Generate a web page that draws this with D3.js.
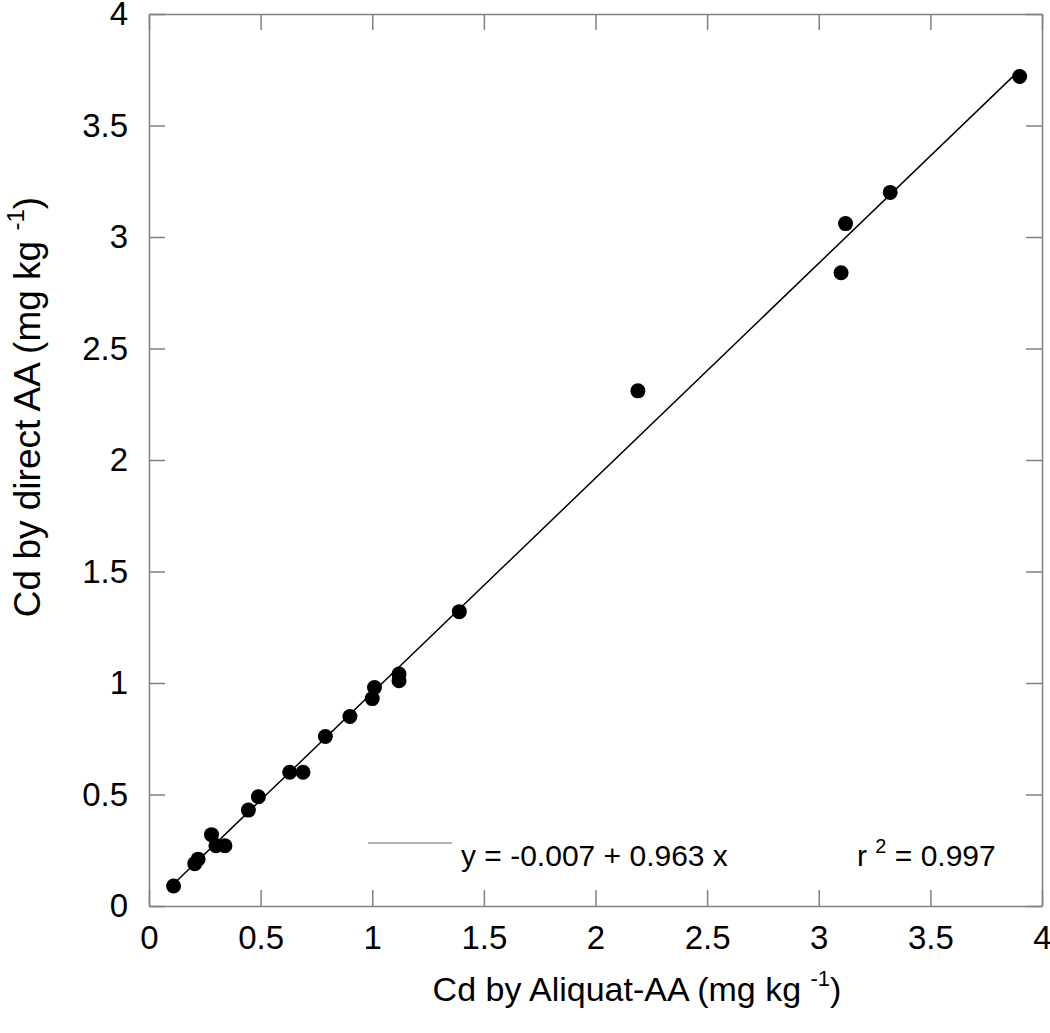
<!DOCTYPE html>
<html lang="en">
<head>
	<meta charset="UTF-8"/>
	<title>Cd by direct AA vs Aliquat-AA</title>
	<script src="https://d3js.org/d3.v7.min.js"></script>
	<style>
		body { margin: 0; background: #fff; }
		text { font-family: "Liberation Sans", Arial, Helvetica, sans-serif; fill: #000; }
	</style>
</head>
<body>
	<script>
		var w = 1050;
		var h = 1033;

		// data (mg/kg)
		var aliquatAA = [0.11, 0.205, 0.22, 0.28, 0.30, 0.34, 0.445, 0.49, 0.63, 0.69, 0.79, 0.90,
		                 1.00, 1.01, 1.12, 1.12, 1.39, 2.19, 3.10, 3.12, 3.32, 3.90];
		var directAA  = [0.09, 0.19, 0.21, 0.32, 0.27, 0.27, 0.43, 0.49, 0.60, 0.60, 0.76, 0.85,
		                 0.93, 0.98, 1.01, 1.04, 1.32, 2.31, 2.84, 3.06, 3.20, 3.72];
		var tickValues = [0, 0.5, 1, 1.5, 2, 2.5, 3, 3.5, 4];
		var fitIntercept = -0.007;
		var fitSlope = 0.963;

		// plot frame (in px)
		var plotLeft = 149, plotRight = 1042, plotTop = 14, plotBottom = 906;

		var xScale = d3.scaleLinear().domain([0, 4]).range([plotLeft, plotRight]);
		var yScale = d3.scaleLinear().domain([0, 4]).range([plotBottom, plotTop]);

		var svg = d3.select("body")
					.append("svg")
					.attr("width", w)
					.attr("height", h);

		var axisColor = "#808080";

		//axes with inward ticks on all four sides
		var xAxis = d3.axisBottom(xScale).tickValues(tickValues).tickSizeInner(-16).tickSizeOuter(0)
						.tickPadding(20).tickFormat(d3.format("~g"));
		var yAxis = d3.axisLeft(yScale).tickValues(tickValues).tickSizeInner(-16).tickSizeOuter(0)
						.tickPadding(21).tickFormat(d3.format("~g"));
		var xTop = d3.axisTop(xScale).tickValues(tickValues).tickSizeInner(-16).tickSizeOuter(0).tickFormat("");
		var yRight = d3.axisRight(yScale).tickValues(tickValues).tickSizeInner(-16).tickSizeOuter(0).tickFormat("");

		function styleAxis(g) {
			g.selectAll("path, line").attr("stroke", axisColor).attr("stroke-width", 1.5);
			g.selectAll("text").attr("font-size", 33).attr("font-family", "Liberation Sans, Arial, sans-serif").attr("fill", "#000");
		}

		svg.append("g").attr("transform", "translate(0," + plotBottom + ")").call(xAxis).call(styleAxis);
		svg.append("g").attr("transform", "translate(" + plotLeft + ",0)").call(yAxis).call(styleAxis);
		svg.append("g").attr("transform", "translate(0," + plotTop + ")").call(xTop).call(styleAxis);
		svg.append("g").attr("transform", "translate(" + plotRight + ",0)").call(yRight).call(styleAxis);

		//regression line over the data range
		var xMin = d3.min(aliquatAA), xMax = d3.max(aliquatAA);
		svg.append("line")
			.attr("x1", xScale(xMin))
			.attr("y1", yScale(fitIntercept + fitSlope * xMin))
			.attr("x2", xScale(xMax))
			.attr("y2", yScale(fitIntercept + fitSlope * xMax))
			.attr("stroke", "#000")
			.attr("stroke-width", 1.5);

		//points
		svg.selectAll("circle")
			.data(aliquatAA)
			.enter()
			.append("circle")
			.attr("cx", function(d) { return xScale(d); })
			.attr("cy", function(d, i) { return yScale(directAA[i]); })
			.attr("r", 7.5)
			.attr("fill", "#000");

		//legend
		svg.append("line")
			.attr("x1", 368).attr("x2", 452)
			.attr("y1", 843).attr("y2", 843)
			.attr("stroke", "#999")
			.attr("stroke-width", 1.5);

		svg.append("text")
			.attr("x", 461)
			.attr("y", 866)
			.attr("font-size", 30)
			.text("y = -0.007 + 0.963 x");

		var r2 = svg.append("text")
			.attr("x", 857)
			.attr("y", 866)
			.attr("font-size", 30);
		r2.append("tspan").text("r ");
		r2.append("tspan").attr("font-size", 20).attr("dy", -13).text("2");
		r2.append("tspan").attr("dy", 13).text(" = 0.997");

		//x-axis label
		var xl = svg.append("text")
			.attr("x", 637)
			.attr("y", 1001)
			.attr("text-anchor", "middle")
			.attr("font-size", 34);
		xl.append("tspan").text("Cd by Aliquat-AA (mg kg ");
		xl.append("tspan").attr("font-size", 22).attr("dy", -15).text("-1");
		xl.append("tspan").attr("dy", 15).text(")");

		//y-axis label
		var yl = svg.append("text")
			.attr("transform", "translate(40,407) rotate(-90)")
			.attr("text-anchor", "middle")
			.attr("font-size", 37);
		yl.append("tspan").text("Cd by direct AA (mg kg ");
		yl.append("tspan").attr("font-size", 24).attr("dy", -16).text("-1");
		yl.append("tspan").attr("dy", 16).text(")");
	</script>
</body>
</html>
